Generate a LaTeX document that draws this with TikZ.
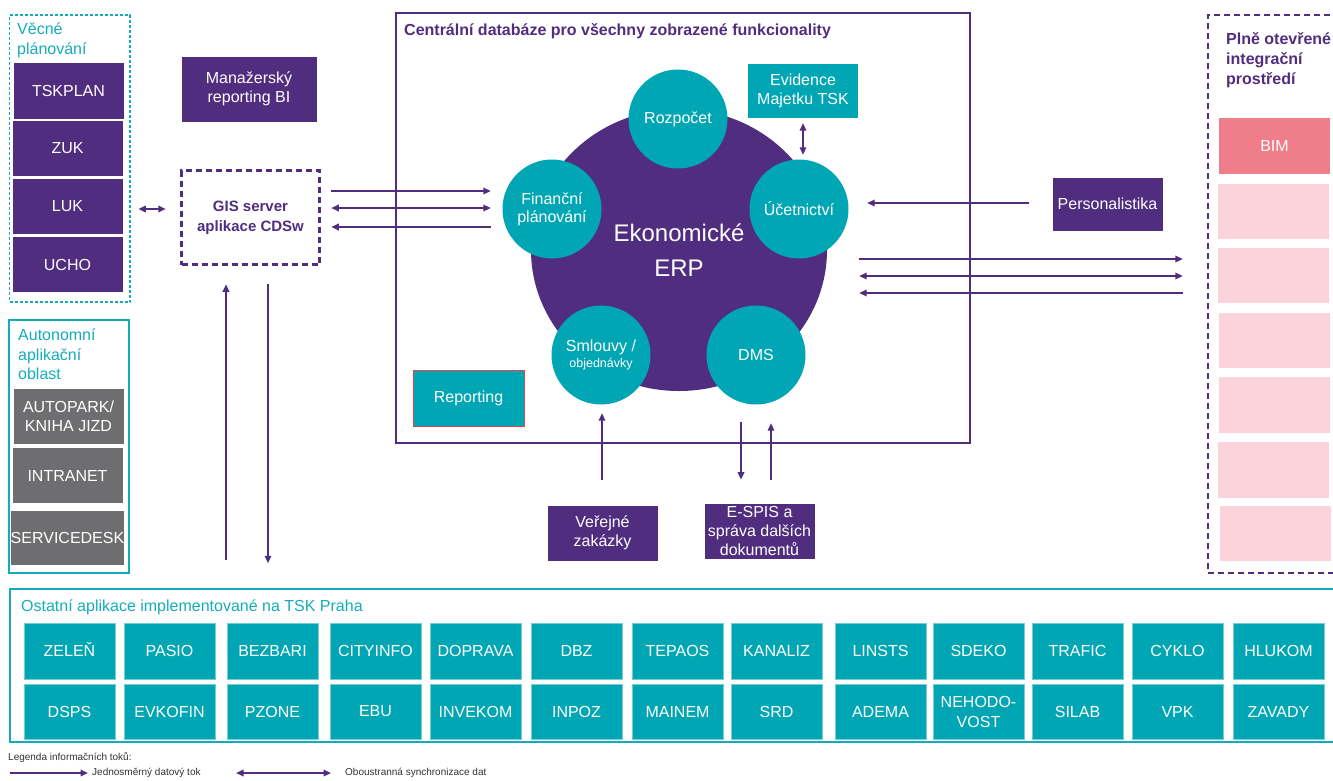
\documentclass[tikz,border=0pt]{standalone}
\usepackage{fontspec}
\setmainfont{Liberation Sans}
\usetikzlibrary{arrows.meta,calc,shapes.geometric}
\definecolor{purp}{RGB}{80,45,127}
\definecolor{tealc}{RGB}{0,166,180}
\definecolor{tealt}{RGB}{20,172,186}
\definecolor{grayc}{RGB}{110,110,112}
\definecolor{bimc}{RGB}{240,126,138}
\definecolor{pinkc}{RGB}{250,212,218}
\definecolor{redb}{RGB}{232,68,80}
\definecolor{tileb}{RGB}{120,205,212}
\definecolor{legt}{RGB}{50,50,50}
\newcommand\myfs[1]{\fontsize{#1}{\dimexpr #1pt*6/5\relax}\selectfont}
\begin{document}
\begin{tikzpicture}[x=1pt,y=-1pt,
  box/.style={rectangle,inner sep=0pt,align=center,text=white,font=\myfs{16}},
  pbox/.style={box,fill=purp,draw=white,line width=0.8pt},
  gbox/.style={box,fill=grayc,draw=white,line width=0.8pt},
  tbox/.style={box,fill=tealc},
  tile/.style={box,fill=tealc,draw=tileb,line width=0.6pt,minimum width=91pt},
  pinkbox/.style={box,fill=pinkc,minimum width=111pt},
  circ/.style={circle,inner sep=0pt,minimum size=99pt,fill=tealc,text=white,align=center,font=\myfs{16}},
  frame/.style={rectangle,inner sep=0pt},
  conn/.style={draw=purp,line width=2pt},
  one/.style={conn,-{Triangle[length=7.5pt,width=6.5pt]}},
  two/.style={conn,{Triangle[length=7.5pt,width=6.5pt]}-{Triangle[length=7.5pt,width=6.5pt]}},
  ttl/.style={inner sep=0pt,align=left,text=tealt,font=\fontsize{16}{20}\selectfont},
  pttl/.style={inner sep=0pt,align=left,text=purp,font=\fontsize{16}{20}\selectfont\bfseries},
]
\useasboundingbox (0,0) rectangle (1333,780);
\clip (0,0) rectangle (1333,780);

% ---------- left column ----------
\node[frame,draw=tealt,line width=1.5pt,dash pattern=on 3pt off 2pt,minimum width=120.5pt,minimum height=287pt] (vecne) at (69.75,158.5) {};
\node[ttl,anchor=north west] (vecnet) at (17,23) {Věcné\\plánování};
\node[pbox,minimum width=111pt,minimum height=57pt] (tsk) at (68.5,90.5) {TSKPLAN};
\node[pbox,minimum width=111pt,minimum height=56pt] (zuk) at (67.5,148.5) {ZUK};
\node[pbox,minimum width=111pt,minimum height=56pt] (luk) at (67.5,206.5) {LUK};
\node[pbox,minimum width=111pt,minimum height=56pt] (ucho) at (67.5,264.5) {UCHO};

\node[frame,draw=tealt,line width=2.5pt,minimum width=120pt,minimum height=253pt] (auto) at (69,446.5) {};
\node[ttl,anchor=north west,font=\fontsize{16}{19.5}\selectfont] (autot) at (18,329) {Autonomní\\aplikační\\oblast};
\node[gbox,minimum width=111pt,minimum height=56pt] (autop) at (68.5,416.5) {AUTOPARK/\\KNIHA JIZD};
\node[gbox,minimum width=111pt,minimum height=56pt] (intra) at (67.5,475.5) {INTRANET};
\node[gbox,minimum width=111pt,minimum height=55pt] (serv) at (67.5,538) {SERVICEDESK};

\node[pbox,minimum width=136pt,minimum height=66pt] (mgr) at (249,89) {Manažerský\\reporting BI};
\node[rectangle,draw=purp,line width=2.5pt,dash pattern=on 6pt off 4pt,inner sep=0pt,minimum width=138pt,minimum height=94pt,align=center,text=purp,font=\fontsize{15}{20}\selectfont\bfseries] (gis) at (250.5,217.5) {GIS server\\aplikace CDSw};

% ---------- central database ----------
\node[frame,draw=purp,line width=2.5pt,minimum width=574pt,minimum height=430pt] (central) at (683,228) {};
\node[inner sep=0pt,anchor=west,text=purp,font=\fontsize{16}{20}\selectfont\bfseries] (centralt) at (404,31) {Centrální databáze pro všechny zobrazené funkcionality};

\node[ellipse,fill=purp,inner sep=0pt,minimum width=296pt,minimum height=282pt] (erp) at (679,250) {};
\node[inner sep=0pt,align=center,text=white,font=\fontsize{24}{35}\selectfont] (erpt) at (679,250) {Ekonomické\\ERP};

\node[circ] (rozp) at (678,119) {Rozpočet};
\node[circ,font=\fontsize{16}{18}\selectfont] (fin) at (552,209) {Finanční\\plánování};
\node[circ] (ucet) at (799,209) {Účetnictví};
\node[circ,font=\fontsize{16}{16}\selectfont] (sml) at (601,355) {Smlouvy /\\{\fontsize{12.5}{15}\selectfont objednávky}};
\node[circ] (dms) at (756,355) {DMS};

\node[tbox,minimum width=110pt,minimum height=54pt] (evid) at (803,91) {Evidence\\Majetku TSK};
\node[tbox,draw=redb,line width=1pt,minimum width=111pt,minimum height=56pt] (rep) at (468.5,398) {Reporting};

\node[pbox,minimum width=111pt,minimum height=54pt] (pers) at (1107.5,204) {Personalistika};
\node[pbox,minimum width=111pt,minimum height=56pt] (ver) at (602.5,533) {Veřejné\\zakázky};
\node[pbox,minimum width=111pt,minimum height=56pt] (espis) at (759.5,531) {E-SPIS a\\správa dalších\\dokumentů};

% ---------- right column ----------
\node[frame,draw=purp,line width=2.5pt,dash pattern=on 6pt off 4pt,minimum width=142pt,minimum height=558pt] (plne) at (1279,294) {};
\node[pttl,anchor=north west] (plnet) at (1226,32) {Plně otevřené\\integrační\\prostředí};
\node[box,fill=bimc,minimum width=111pt,minimum height=56pt] (bim) at (1274.5,146) {BIM};
\node[pinkbox,minimum height=55pt] (pk1) at (1273.5,211.5) {};
\node[pinkbox,minimum height=55pt] (pk2) at (1273.5,275.5) {};
\node[pinkbox,minimum height=55pt] (pk3) at (1274.5,340.5) {};
\node[pinkbox,minimum height=56pt] (pk4) at (1274.5,405) {};
\node[pinkbox,minimum height=56pt] (pk5) at (1273.5,470) {};
\node[pinkbox,minimum height=55pt] (pk6) at (1275.5,533.5) {};

% ---------- bottom ----------
\node[frame,draw=tealt,line width=2.5pt,minimum width=1340pt,minimum height=153pt] (other) at (680,665.5) {};
\node[inner sep=0pt,anchor=west,text=tealt,font=\fontsize{16}{20}\selectfont] (othert) at (21,607) {Ostatní aplikace implementované na TSK Praha};
\foreach \xl/\lab [count=\i] in {24/ZELEŇ,124/PASIO,227/BEZBARI,330/CITYINFO,430/DOPRAVA,531/DBZ,632/TEPAOS,731/KANALIZ,835/LINSTS,933/SDEKO,1032/TRAFIC,1132/CYKLO,1233/HLUKOM}{
  \node[tile,minimum height=56pt,text height=11.5pt,text depth=0pt] (ta\i) at (\xl+45.5,651) {\lab};
}
\foreach \xl/\lab [count=\i] in {24/DSPS,124/EVKOFIN,227/PZONE,330/EBU,430/INVEKOM,531/INPOZ,632/MAINEM,731/SRD,835/ADEMA,933/{NEHODO-\\VOST},1032/SILAB,1132/VPK,1233/ZAVADY}{
  \node[tile,minimum height=55pt,font=\fontsize{16}{20}\selectfont] (tb\i) at (\xl+45.5,711.5) {\lab};
}

% ---------- legend ----------
\node[inner sep=0pt,anchor=west,text=legt,font=\fontsize{10}{12}\selectfont] (legt) at (8,757) {Legenda informačních toků:};
\node[inner sep=0pt,anchor=west,text=legt,font=\fontsize{10}{12}\selectfont] (leg1) at (92,773) {Jednosměrný datový tok};
\node[inner sep=0pt,anchor=west,text=legt,font=\fontsize{10}{12}\selectfont] (leg2) at (345,773) {Oboustranná synchronizace dat};
\draw[one] ($(leg1.west)+(-82,0)$) -- ($(leg1.west)+(-4,0)$);
\draw[two] ($(leg2.west)+(-109,0)$) -- ($(leg2.west)+(-14,0)$);

% ---------- connectors ----------
\draw[two] ($(luk.east)+(15,2.5)$) -- ($(gis.west)+(-14.5,-8.5)$);
\draw[one] ($(gis.south)+(-24.5,294.5)$) -- ($(gis.south)+(-24.5,18.5)$);
\draw[one] ($(gis.south)+(17.5,18.5)$) -- ($(gis.south)+(17.5,297.5)$);

\draw[one] ($(gis.east)+(10.5,-26.5)$) -- ($(fin.west)+(-11.5,-18)$);
\draw[two] ($(gis.east)+(10.5,-9.5)$) -- ($(fin.west)+(-11.5,-1)$);
\draw[one] ($(fin.west)+(-11.5,18)$) -- ($(gis.east)+(10.5,9.5)$);

\draw[two] ($(evid.south)+(0,5)$) -- ($(ucet.north)+(4,-4.5)$);
\draw[one] ($(pers.west)+(-23,-1)$) -- ($(ucet.east)+(18.5,-6)$);

\draw[one] ($(erp.east)+(32,9)$) -- ($(pk2.west)+(-35,-16.5)$);
\draw[two] ($(erp.east)+(32,26)$) -- ($(pk2.west)+(-35,0.5)$);
\draw[one] ($(pk2.west)+(-35,17.5)$) -- ($(erp.east)+(32,43)$);

\draw[one] ($(ver.north)+(-0.5,-25)$) -- ($(sml.south)+(1,8.5)$);
\draw[one] ($(dms.south)+(-15,17.5)$) -- ($(espis.north)+(-18.5,-23)$);
\draw[one] ($(espis.north)+(11.5,-23)$) -- ($(dms.south)+(15,18.5)$);
\end{tikzpicture}
\end{document}
